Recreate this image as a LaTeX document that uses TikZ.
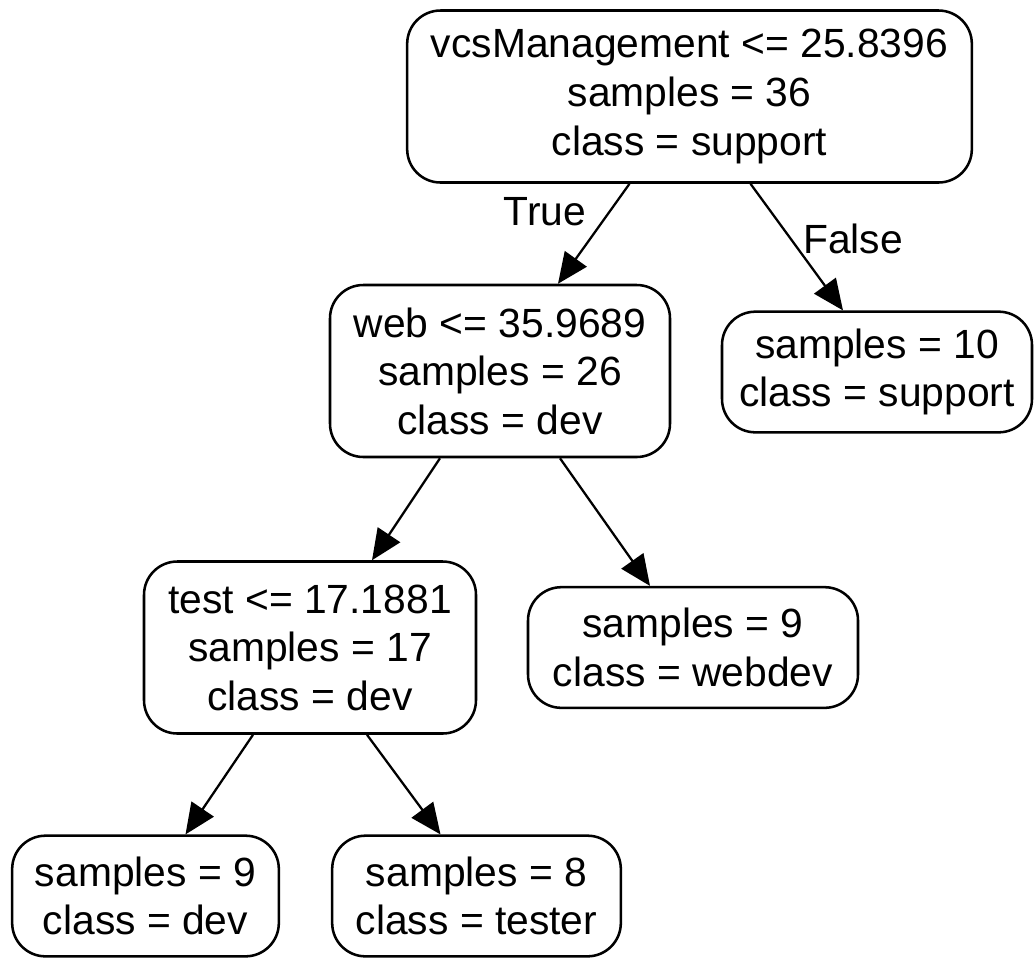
\documentclass[tikz,border=0pt]{standalone}
\usepackage{fontspec}
\setmainfont{Liberation Sans}
\usetikzlibrary{arrows.meta,calc}

\tikzset{
  treenode/.style={draw=black, line width=1.9pt, rounded corners=25pt,
    align=center, inner sep=0pt, font=\fontsize{30.6}{36.4}\selectfont},
  splitnode/.style={treenode, minimum height=129pt},
  leafnode/.style={treenode, minimum height=90.5pt},
  edgelabel/.style={font=\fontsize{30.6}{36.4}\selectfont, inner sep=0pt},
  branch/.style={line width=1.7pt, -{Triangle[length=23pt,width=20pt]}}
}

\begin{document}
\begin{tikzpicture}[x=0.75pt,y=-0.75pt]
  \useasboundingbox (0,0) rectangle (1035,958);

  % decision nodes
  \node[splitnode, minimum width=423.5pt] (root) at (689.5,96.5)
    {vcsManagement <= 25.8396\\samples = 36\\class = support};
  \node[splitnode, minimum width=255pt] (web) at (500,371)
    {web <= 35.9689\\samples = 26\\class = dev};
  \node[splitnode, minimum width=249pt] (test) at (310,647.5)
    {test <= 17.1881\\samples = 17\\class = dev};

  % leaves
  \node[leafnode, minimum width=232.5pt] (support) at (877,372)
    {samples = 10\\class = support};
  \node[leafnode, minimum width=247.5pt] (webdev) at (693,647.5)
    {samples = 9\\class = webdev};
  \node[leafnode, minimum width=200pt] (dev) at (145.5,896)
    {samples = 9\\class = dev};
  \node[leafnode, minimum width=216.5pt] (tester) at (476.5,896)
    {samples = 8\\class = tester};

  % branches
  \draw[branch] ($(root.south)+(-60,0)$) -- ($(web.north)+(58,0)$);
  \draw[branch] ($(root.south)+(61,0)$) -- ($(support.north)+(-34,0)$);
  \draw[branch] ($(web.south)+(-60,0)$) -- ($(test.north)+(62,0)$);
  \draw[branch] ($(web.south)+(60,0)$) -- ($(webdev.north)+(-43,0)$);
  \draw[branch] ($(test.south)+(-57,0)$) -- ($(dev.north)+(40,0)$);
  \draw[branch] ($(test.south)+(57,0)$) -- ($(tester.north)+(-36,0)$);

  % branch labels
  \node[edgelabel] (truelbl) at (545,212) {True};
  \node[edgelabel] (falselbl) at (853,239) {False};
\end{tikzpicture}
\end{document}
